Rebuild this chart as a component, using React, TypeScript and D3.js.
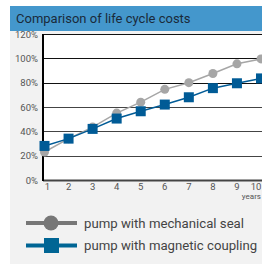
import React from 'react';
import * as d3 from 'd3';

const years = [1, 2, 3, 4, 5, 6, 7, 8, 9, 10];
const mechanicalSeal = [23, 34, 43.5, 55, 64, 74.5, 80, 87.5, 95.5, 99.5];
const magneticCoupling = [28, 34, 42, 50.5, 56.5, 62, 68, 75.5, 79.5, 83.5];
const yTicks = [0, 20, 40, 60, 80, 100, 120];
const seriesNames = ['pump with mechanical seal', 'pump with magnetic coupling'];

const W = 262;
const H = 266;
const font = 'Roboto, "Liberation Sans", Arial, sans-serif';

export default function App() {
  // plot area
  const left = 43;
  const top = 34;
  const bottom = 180;

  const x = d3.scaleLinear().domain([1, 10]).range([44.5, 261]);
  const y = d3.scaleLinear().domain([0, 120]).range([bottom, top]);

  const line = d3
    .line<number>()
    .x((_, i) => x(years[i]))
    .y(d => y(d));

  const gray = '#a6a6a6';
  const blue = '#005b96';

  return (
    <svg
      width={W}
      height={H}
      style={{ position: 'absolute', left: 0, top: 0, fontFamily: font }}
    >
      <rect x={0} y={0} width={W} height={H} fill="#fff" />
      {/* panel */}
      <rect x={10} y={6} width={W - 10} height={258} fill="#f2f2f2" />
      <rect x={10} y={6} width={W - 10} height={25} fill="#4497cc" />
      <text x={16} y={23} fontSize={13} fill="#1a2a3a">
        Comparison of life cycle costs
      </text>

      {/* plot background */}
      <rect x={left} y={top} width={W - left} height={bottom - top} fill="#fff" />

      {/* grid */}
      {yTicks.map(t => (
        <line
          key={t}
          x1={left}
          x2={W}
          y1={Math.round(y(t)) + 0.5}
          y2={Math.round(y(t)) + 0.5}
          stroke={t === 100 || t === 80 || t === 120 ? '#111' : '#444'}
          strokeWidth={t === 0 ? 2 : 1}
        />
      ))}
      <line x1={left} x2={left} y1={top} y2={bottom + 1} stroke="#000" strokeWidth={2} />

      {/* y tick labels */}
      {yTicks.map(t => (
        <text
          key={t}
          x={38}
          y={y(t) + 3.5}
          fontSize={9.5}
          textAnchor="end"
          fill="#555"
        >
          {t}%
        </text>
      ))}

      {/* x tick labels */}
      {years.map(v => (
        <text
          key={v}
          x={x(v) + (v === 1 ? 3 : v === 10 ? -5 : 0)}
          y={190}
          fontSize={9.5}
          textAnchor="middle"
          fill="#555"
        >
          {v}
        </text>
      ))}
      <text x={W - 1} y={199} fontSize={8} textAnchor="end" fill="#555">
        years
      </text>

      {/* series */}
      <path d={line(mechanicalSeal) || ''} fill="none" stroke={gray} strokeWidth={1.5} />
      {mechanicalSeal.map((d, i) => (
        <circle key={i} cx={x(years[i])} cy={y(d)} r={4.5} fill={gray} />
      ))}
      <path d={line(magneticCoupling) || ''} fill="none" stroke={blue} strokeWidth={1.5} />
      {magneticCoupling.map((d, i) => (
        <rect
          key={i}
          x={x(years[i]) - 5}
          y={y(d) - 5}
          width={10}
          height={10}
          fill={blue}
        />
      ))}

      {/* legend */}
      <line x1={26} x2={77} y1={223} y2={223} stroke="#777" strokeWidth={4} />
      <circle cx={51} cy={223} r={7.5} fill="#777" />
      <text x={84} y={227.5} fontSize={13.2} fill="#444">
        {seriesNames[0]}
      </text>
      <line x1={26} x2={77} y1={245.5} y2={245.5} stroke="#006594" strokeWidth={4} />
      <rect x={44} y={238} width={15} height={15} fill="#006594" />
      <text x={84} y={250} fontSize={13.2} fill="#444">
        {seriesNames[1]}
      </text>
    </svg>
  );
}
